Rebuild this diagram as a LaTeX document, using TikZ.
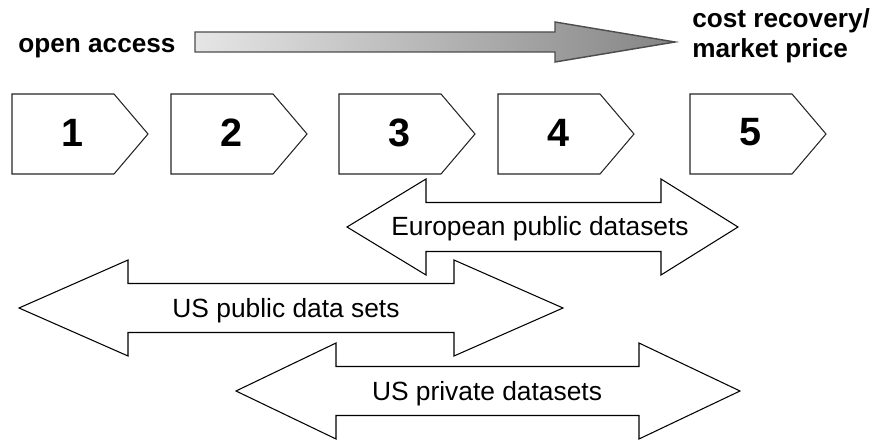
\documentclass[tikz,border=0pt]{standalone}
\usepackage{fontspec}
\setmainfont{Liberation Sans}

\begin{document}
\begin{tikzpicture}[x=0.02cm,y=-0.02cm,
    stage/.style={draw=black!85,line width=0.6pt,fill=white},
    span/.style={draw=black,line width=0.6pt,fill=white},
    head/.style={inner sep=0pt,font=\bfseries\fontsize{14.9}{17.6}\selectfont},
    lbl/.style={inner sep=0pt,anchor=base,font=\fontsize{15}{18}\selectfont}]
  \useasboundingbox (0,0) rectangle (876,442);

  % price scale
  \draw[draw=black!70,line width=0.8pt,left color=black!10,right color=black!48]
    (195,32) -- (555,32) -- (555,22) -- (675,42) -- (555,62) -- (555,52) -- (195,52) -- cycle;
  \node[head,anchor=base west] (open) at (18,53) {open access};
  \node[head,anchor=base west,align=left] (cost) at (692,58) {cost recovery/\\market price};

  % stages
  \foreach \n/\x in {1/12,2/171,3/339,4/498,5/690}{
    \draw[stage] (\x,94) -- ++(102,0) -- ++(34,40) -- ++(-34,40) -- ++(-102,0) -- cycle;
    \node[inner sep=0pt,font=\bfseries\fontsize{22.5}{27}\selectfont] (s\n) at (\x+60,132.5) {\n};
  }

  % data sets
  \draw[span] (347,227) -- (426,179) -- (426,202.5) -- (661,202.5) -- (661,179) -- (738,227)
    -- (661,275) -- (661,251.5) -- (426,251.5) -- (426,275) -- cycle;
  \node[lbl] (eu) at (540,236) {European public datasets};

  \draw[span] (19,308) -- (128,260) -- (128,283.5) -- (454,283.5) -- (454,260) -- (563,308)
    -- (454,356) -- (454,332.5) -- (128,332.5) -- (128,356) -- cycle;
  \node[lbl] (uspub) at (286,317) {US public data sets};

  \draw[span] (236,391) -- (336,343) -- (336,366.5) -- (639,366.5) -- (639,343) -- (740,391)
    -- (639,439) -- (639,415.5) -- (336,415.5) -- (336,439) -- cycle;
  \node[lbl] (uspriv) at (487,400) {US private datasets};
\end{tikzpicture}
\end{document}
